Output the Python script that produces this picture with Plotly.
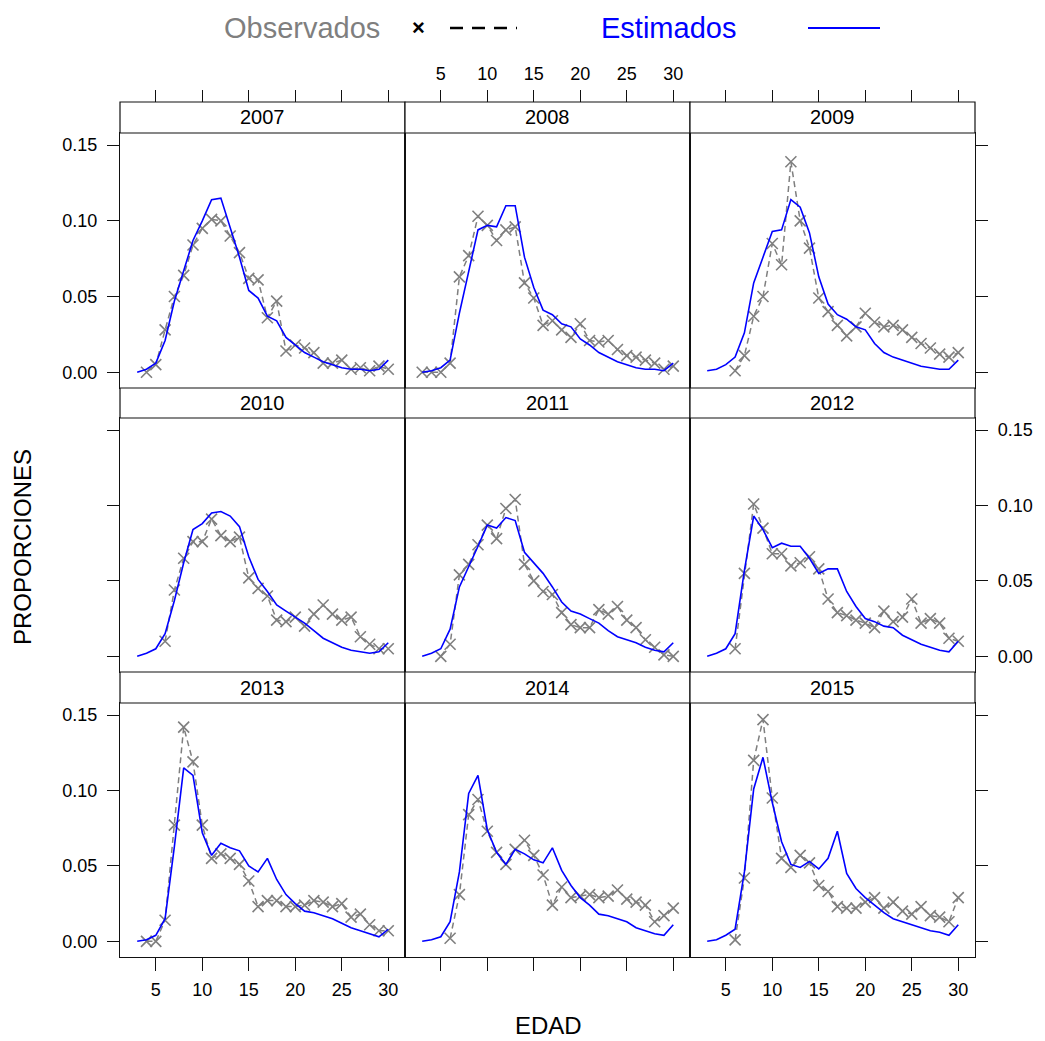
import plotly.graph_objects as go

# ---------------- data ----------------
ages = list(range(3, 31))
years = ["2007", "2008", "2009", "2010", "2011", "2012", "2013", "2014", "2015"]

est_2007 = [0.000, 0.002, 0.006, 0.021, 0.047, 0.067, 0.087, 0.100, 0.114, 0.115, 0.096, 0.076, 0.054, 0.049,
            0.037, 0.034, 0.023, 0.018, 0.013, 0.010, 0.007, 0.005, 0.003, 0.002, 0.002, 0.001, 0.002, 0.008]
obs_2007 = [None, 0.000, 0.005, 0.028, 0.050, 0.064, 0.084, 0.095, 0.101, 0.100, 0.090, 0.079, 0.062, 0.061,
            0.036, 0.047, 0.014, 0.018, 0.016, 0.013, 0.006, 0.006, 0.008, 0.002, 0.003, 0.001, 0.004, 0.002]

est_2008 = [0.000, 0.001, 0.003, 0.008, 0.039, 0.067, 0.094, 0.097, 0.096, 0.110, 0.110, 0.076, 0.056, 0.041,
            0.038, 0.032, 0.030, 0.022, 0.018, 0.013, 0.010, 0.007, 0.005, 0.003, 0.002, 0.002, 0.001, 0.006]
obs_2008 = [0.000, 0.000, 0.000, 0.006, 0.063, 0.077, 0.103, 0.097, 0.087, 0.094, 0.096, 0.059, 0.049, 0.031,
            0.034, 0.028, 0.023, 0.032, 0.021, 0.020, 0.021, 0.015, 0.011, 0.010, 0.008, 0.006, 0.002, 0.004]

est_2009 = [0.001, 0.002, 0.005, 0.010, 0.026, 0.059, 0.076, 0.093, 0.094, 0.114, 0.109, 0.092, 0.063, 0.045,
            0.038, 0.035, 0.030, 0.028, 0.019, 0.013, 0.010, 0.008, 0.006, 0.004, 0.003, 0.002, 0.002, 0.008]
obs_2009 = [None, None, None, 0.001, 0.011, 0.037, 0.050, 0.085, 0.071, 0.139, 0.100, 0.082, 0.049, 0.040,
            0.031, 0.024, 0.030, 0.039, 0.033, 0.030, 0.031, 0.028, 0.023, 0.019, 0.016, 0.012, 0.010, 0.013]

est_2010 = [0.000, 0.002, 0.005, 0.015, 0.037, 0.062, 0.084, 0.088, 0.095, 0.096, 0.093, 0.086, 0.066, 0.051,
            0.043, 0.034, 0.030, 0.026, 0.022, 0.017, 0.012, 0.009, 0.006, 0.004, 0.003, 0.002, 0.003, 0.009]
obs_2010 = [None, None, None, 0.010, 0.044, 0.065, 0.076, 0.076, 0.091, 0.080, 0.076, 0.079, 0.052, 0.045,
            0.040, 0.024, 0.023, 0.026, 0.020, 0.028, 0.034, 0.028, 0.024, 0.026, 0.013, 0.008, 0.005, 0.005]

est_2011 = [0.000, 0.002, 0.005, 0.018, 0.046, 0.059, 0.073, 0.087, 0.085, 0.092, 0.090, 0.069, 0.062, 0.055,
            0.046, 0.036, 0.030, 0.028, 0.025, 0.022, 0.017, 0.013, 0.011, 0.009, 0.006, 0.004, 0.003, 0.009]
obs_2011 = [None, None, 0.000, 0.008, 0.054, 0.061, 0.074, 0.087, 0.078, 0.098, 0.104, 0.061, 0.050, 0.043,
            0.041, 0.029, 0.021, 0.019, 0.019, 0.031, 0.028, 0.033, 0.024, 0.019, 0.011, 0.006, 0.001, 0.000]

est_2012 = [0.000, 0.002, 0.005, 0.015, 0.057, 0.093, 0.084, 0.072, 0.075, 0.073, 0.073, 0.065, 0.055, 0.058,
            0.058, 0.043, 0.033, 0.025, 0.023, 0.020, 0.019, 0.014, 0.011, 0.008, 0.006, 0.004, 0.003, 0.010]
obs_2012 = [None, None, None, 0.005, 0.055, 0.101, 0.085, 0.068, 0.068, 0.060, 0.062, 0.066, 0.058, 0.038,
            0.029, 0.027, 0.024, 0.022, 0.019, 0.030, 0.023, 0.026, 0.038, 0.022, 0.025, 0.022, 0.012, 0.010]

est_2013 = [0.000, 0.001, 0.004, 0.015, 0.063, 0.115, 0.110, 0.072, 0.057, 0.065, 0.062, 0.060, 0.050, 0.046,
            0.055, 0.041, 0.031, 0.025, 0.020, 0.019, 0.017, 0.015, 0.012, 0.009, 0.007, 0.005, 0.003, 0.008]
obs_2013 = [None, 0.000, 0.000, 0.014, 0.077, 0.142, 0.119, 0.077, 0.055, 0.058, 0.055, 0.051, 0.040, 0.023,
            0.027, 0.027, 0.023, 0.023, 0.024, 0.027, 0.026, 0.023, 0.025, 0.016, 0.018, 0.011, 0.007, 0.007]

est_2014 = [0.000, 0.001, 0.003, 0.013, 0.046, 0.098, 0.110, 0.074, 0.059, 0.051, 0.061, 0.058, 0.054, 0.052,
            0.062, 0.047, 0.037, 0.029, 0.024, 0.018, 0.017, 0.015, 0.013, 0.009, 0.007, 0.005, 0.004, 0.011]
obs_2014 = [None, None, None, 0.002, 0.031, 0.084, 0.094, 0.073, 0.059, 0.051, 0.061, 0.067, 0.057, 0.044,
            0.024, 0.036, 0.029, 0.030, 0.031, 0.029, 0.030, 0.034, 0.028, 0.026, 0.024, 0.013, 0.017, 0.022]

est_2015 = [0.000, 0.001, 0.004, 0.008, 0.046, 0.101, 0.122, 0.092, 0.066, 0.051, 0.049, 0.053, 0.048, 0.055,
            0.073, 0.045, 0.035, 0.029, 0.024, 0.019, 0.015, 0.013, 0.011, 0.009, 0.007, 0.006, 0.004, 0.011]
obs_2015 = [None, None, None, 0.001, 0.042, 0.120, 0.147, 0.095, 0.055, 0.049, 0.057, 0.052, 0.037, 0.033,
            0.023, 0.022, 0.022, 0.026, 0.029, 0.022, 0.026, 0.020, 0.018, 0.023, 0.017, 0.016, 0.013, 0.029]

estimated = [est_2007, est_2008, est_2009, est_2010, est_2011, est_2012, est_2013, est_2014, est_2015]
observed = [obs_2007, obs_2008, obs_2009, obs_2010, obs_2011, obs_2012, obs_2013, obs_2014, obs_2015]

x_ticks = [5, 10, 15, 20, 25, 30]
y_ticks = [0.00, 0.05, 0.10, 0.15]
y_ticktext = ["0.00", "0.05", "0.10", "0.15"]

# ---------------- layout geometry ----------------
W, H = 1045, 1041
FONT = "Liberation Sans, Arial, sans-serif"
col_x = [120, 405, 690]
col_w = 285
row_plot = [(133, 388), (418, 672), (703, 957)]
row_strip = [(102, 133), (388, 418), (672, 703)]
x_range = [1.15, 31.8]
y_range = [-0.0104, 0.158]

GRAY = "#7f7f7f"
BLUE = "#0000ff"

fig = go.Figure()
layout = {}
shapes = []
annotations = []

for k in range(9):
    r, c = divmod(k, 3)
    sfx = "" if k == 0 else str(k + 1)
    xa, ya = "x" + sfx, "y" + sfx
    fig.add_trace(go.Scatter(
        x=ages, y=observed[k], xaxis=xa, yaxis=ya, mode="lines+markers",
        line=dict(color=GRAY, width=1.5, dash="6px,4px"),
        marker=dict(symbol="x-thin", size=11, line=dict(color=GRAY, width=1.6)),
        showlegend=False, hoverinfo="skip"))
    fig.add_trace(go.Scatter(
        x=ages, y=estimated[k], xaxis=xa, yaxis=ya, mode="lines",
        line=dict(color=BLUE, width=1.6),
        showlegend=False, hoverinfo="skip"))

    x0 = col_x[c] / W
    x1 = (col_x[c] + col_w) / W
    y0 = 1 - row_plot[r][1] / H
    y1 = 1 - row_plot[r][0] / H

    layout["xaxis" + sfx] = dict(
        domain=[x0, x1], anchor=ya, range=x_range, showgrid=False, zeroline=False,
        showline=True, mirror=True, linecolor="#111", linewidth=1.2,
        tickvals=x_ticks, ticks="outside" if r == 2 else "", ticklen=13,
        tickcolor="#111", tickwidth=1, ticklabelstandoff=3,
        showticklabels=(r == 2 and c != 1),
        tickfont=dict(family=FONT, size=18, color="black"))
    layout["yaxis" + sfx] = dict(
        domain=[y0, y1], anchor=xa, range=y_range, showgrid=False, zeroline=False,
        showline=True, mirror=True, linecolor="#111", linewidth=1.2,
        tickvals=y_ticks, ticktext=y_ticktext,
        ticks="outside" if c != 1 else "", ticklen=12, tickcolor="#111", tickwidth=1,
        ticklabelstandoff=6,
        side="right" if c == 2 else "left",
        showticklabels=((c == 0 and r in (0, 2)) or (c == 2 and r == 1)),
        tickfont=dict(family=FONT, size=18, color="black"))

    # strip
    shapes.append(dict(type="rect", xref="paper", yref="paper",
                       x0=x0, x1=x1, y0=1 - row_strip[r][1] / H, y1=1 - row_strip[r][0] / H,
                       line=dict(color="#111", width=1.2), fillcolor="white", layer="above"))
    annotations.append(dict(text=years[k], xref="paper", yref="paper",
                            x=(x0 + x1) / 2, y=1 - (row_strip[r][0] + row_strip[r][1]) / 2 / H,
                            xanchor="center", yanchor="middle", showarrow=False,
                            font=dict(family=FONT, size=20, color="black")))

# top tick axes (above the strips of the first row)
for c in range(3):
    name = "xaxis" + str(10 + c)
    base = "x" if c == 0 else "x" + str(c + 1)
    fig.add_trace(go.Scatter(x=[None], y=[None], xaxis="x" + str(10 + c),
                             yaxis="y" if c == 0 else "y" + str(c + 1),
                             showlegend=False, hoverinfo="skip"))
    layout[name] = dict(
        overlaying=base, anchor="free", position=1 - row_strip[0][0] / H, side="top",
        range=x_range, showgrid=False, zeroline=False, showline=False,
        tickvals=x_ticks, ticks="outside", ticklen=12, tickcolor="#111", tickwidth=1,
        ticklabelstandoff=3,
        showticklabels=(c == 1), tickfont=dict(family=FONT, size=18, color="black"))

# legend (key) at top
key_y = 1 - 28 / H
annotations += [
    dict(text="Observados", xref="paper", yref="paper", x=302 / W, y=key_y,
         xanchor="center", yanchor="middle", showarrow=False,
         font=dict(family=FONT, size=29, color=GRAY)),
    dict(text="<b>×</b>", xref="paper", yref="paper", x=418 / W, y=key_y,
         xanchor="center", yanchor="middle", showarrow=False,
         font=dict(family=FONT, size=22, color="black")),
    dict(text="Estimados", xref="paper", yref="paper", x=668 / W, y=key_y,
         xanchor="center", yanchor="middle", showarrow=False,
         font=dict(family=FONT, size=29, color=BLUE)),
    dict(text="PROPORCIONES", xref="paper", yref="paper", x=22 / W, y=1 - 547 / H,
         xanchor="center", yanchor="middle", showarrow=False, textangle=-90,
         font=dict(family=FONT, size=24, color="black")),
    dict(text="EDAD", xref="paper", yref="paper", x=548 / W, y=1 - 1025 / H,
         xanchor="center", yanchor="middle", showarrow=False,
         font=dict(family=FONT, size=24, color="black")),
]
shapes += [
    dict(type="line", xref="paper", yref="paper", x0=450 / W, x1=517 / W, y0=key_y, y1=key_y,
         line=dict(color="black", width=2.5, dash="13px,9px")),
    dict(type="line", xref="paper", yref="paper", x0=808 / W, x1=880 / W, y0=key_y, y1=key_y,
         line=dict(color=BLUE, width=2.2)),
]

fig.update_layout(
    width=W, height=H, margin=dict(l=0, r=0, t=0, b=0),
    paper_bgcolor="white", plot_bgcolor="white",
    shapes=shapes, annotations=annotations,
    font=dict(family=FONT, color="black"),
    **layout)

fig.write_html("out.html")
